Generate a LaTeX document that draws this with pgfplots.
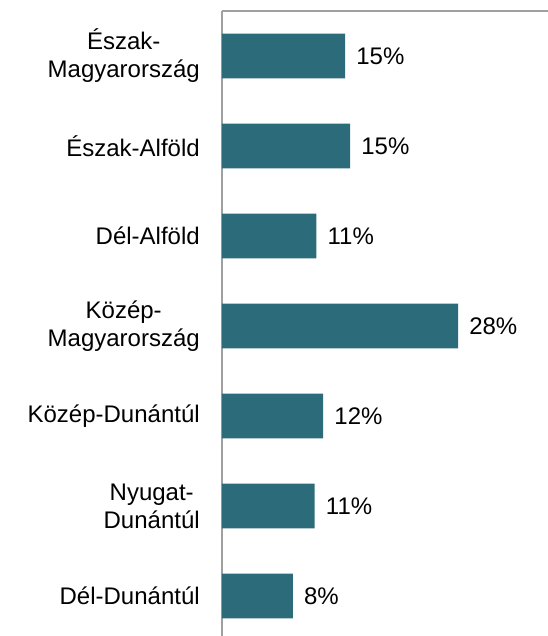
\documentclass[border=0pt]{standalone}
\usepackage{pgfplots}
\pgfplotsset{compat=1.18}
\usepackage{fontspec}
\setmainfont{Liberation Sans}
\definecolor{barc}{HTML}{2C6B79}
\definecolor{framec}{HTML}{A0A0A0}
\begin{document}
\begin{tikzpicture}
\begin{axis}[
  at={(0pt,0pt)}, anchor=south west,
  scale only axis,
  width=252.9pt, height=472.5pt,
  xbar, bar width=33.4pt,
  xmin=0, xmax=40,
  ymin=-0.5, ymax=6.5,
  axis y line=left, axis x line=top,
  ytick={0,1,2,3,4,5,6},
  yticklabels={{Dél-Dunántúl},{Nyugat-\\Dunántúl},{Közép-Dunántúl},{Közép-\\Magyarország},{Dél-Alföld},{Észak-Alföld},{Észak-\\Magyarország}},
  xtick=\empty,
  major tick length=0pt,
  axis line style={framec, line width=0.9pt, -},
  y tick label style={font=\fontsize{18}{21}\selectfont, align=center, anchor=east, inner sep=0pt, xshift=-16.5pt},
  /pgf/number format/assume math mode=true,
  nodes near coords={\pgfmathprintnumber[fixed,precision=0]{\pgfplotspointmeta}\%},
  every node near coord/.append style={font=\fontsize{18}{21}\selectfont, anchor=west, inner sep=0pt, xshift=8.25pt, black},
  clip=false,
]
\addplot[fill=barc, draw=none] coordinates {
  (8.4,0) (11.0,1) (12.0,2) (28.0,3) (11.2,4) (15.2,5) (14.6,6)
};
\end{axis}
\pgfresetboundingbox
\useasboundingbox (-166.5pt,3.75pt) rectangle (243.75pt,480.75pt);
\end{tikzpicture}
\end{document}
